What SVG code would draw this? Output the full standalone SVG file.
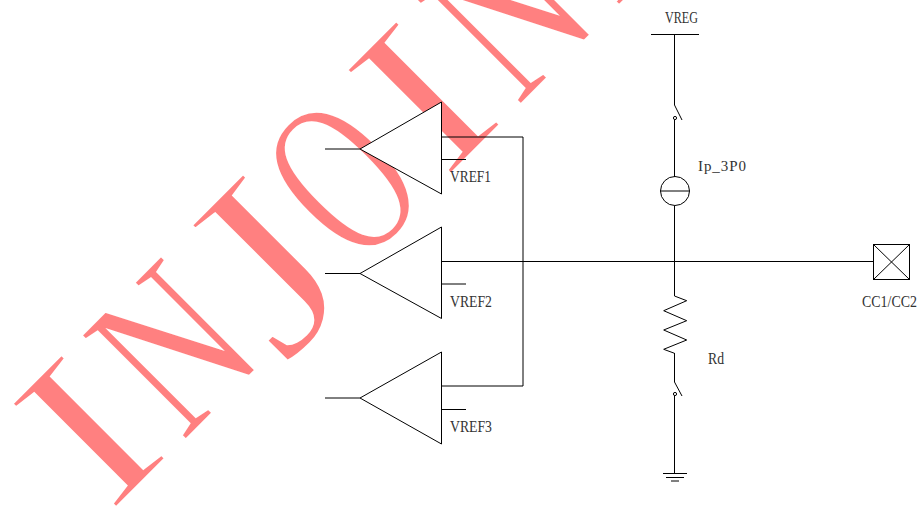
<svg xmlns="http://www.w3.org/2000/svg" width="917" height="511" viewBox="0 0 917 511">
<style>
.l{fill:none;stroke:#000;stroke-width:1}
.c{fill:#fff;stroke:#000;stroke-width:1}
.t{font-family:"Liberation Serif",serif;font-size:16px;fill:#333;stroke:none}
.wm text{font-family:"Liberation Serif",serif;font-size:225px;fill:#ff8080;stroke:#fff;stroke-width:2}
.wm .i{stroke-width:3}
</style>
<rect width="917" height="511" fill="#fff"/>
<g id="watermark" class="wm">
<text class="i" transform="translate(109 515) rotate(-45) scale(1.2 1)">I</text>
<text transform="translate(182.4 442.7) rotate(-45) scale(.742 1)">N</text>
<text transform="translate(283.5 367.5) rotate(-45) scale(1.17 1)" style="font-size:254px;stroke-width:4">J</text>
<text transform="translate(358.2 270.4) rotate(-45) scale(.64 1)" style="font-size:232px;stroke-width:3">O</text>
<text class="i" transform="translate(443.8 181.3) rotate(-45) scale(1.2 1)">I</text>
<text transform="translate(517.6 107.5) rotate(-45) scale(.742 1)">N</text>
<text class="i" transform="translate(612 13) rotate(-45) scale(1.2 1)">I</text>
</g>
<g id="connectors" class="l">
<path d="M674.5 34.5V105M674.5 120V177M674.5 206V296M674.5 353V382M674.5 396V473.5"/>
<path d="M441.5 261.5H873.5M441.5 137H523V386H441.5"/>
<path d="M325 149H360M325 273.5H360M325 398H360"/>
</g>
<g id="vreg" class="l"><path d="M651 34.5H699"/><text class="t" x="665" y="23" textLength="33" lengthAdjust="spacingAndGlyphs">VREG</text></g>
<g id="sw1" class="l"><path d="M674.5 105L682 120"/><circle cx="675" cy="118" r="1.6"/></g>
<g id="ip3p0" class="l"><circle cx="675" cy="191" r="14.5"/><path d="M660.5 191H689.5"/><text class="t" x="698" y="171" textLength="48" style="font-size:15px">Ip_3P0</text></g>
<g id="rd" class="l"><path d="M674.5 296L686.7 300.7L663.7 310.7L686.7 320.7L663.7 330L686.7 340L663.7 349.3L674.5 353.3"/><text class="t" x="708" y="364" textLength="16" lengthAdjust="spacingAndGlyphs">Rd</text></g>
<g id="sw2" class="l"><path d="M674.5 382L682 396"/><circle cx="675" cy="394" r="1.6"/></g>
<g id="gnd" class="l"><path d="M663 473.5H687M666 477.5H684M671 481H679"/></g>
<g id="cc" class="l"><rect x="873.5" y="244.5" width="36" height="35"/><path d="M873.5 244.5L909.5 279.5M909.5 244.5L873.5 279.5"/><text class="t" x="862" y="307" textLength="55" lengthAdjust="spacingAndGlyphs">CC1/CC2</text></g>
<g id="cmp1"><path class="c" d="M441.5 102L360 149L441.5 194Z"/><path class="l" d="M441.5 159.5H466"/><text class="t" x="450" y="182" textLength="41" lengthAdjust="spacingAndGlyphs">VREF1</text></g>
<g id="cmp2"><path class="c" d="M441.5 227L360 273.5L441.5 318.5Z"/><path class="l" d="M441.5 284H466"/><text class="t" x="450" y="307" textLength="42" lengthAdjust="spacingAndGlyphs">VREF2</text></g>
<g id="cmp3"><path class="c" d="M441.5 352L360 398L441.5 444Z"/><path class="l" d="M441.5 409.5H466"/><text class="t" x="450" y="432" textLength="42" lengthAdjust="spacingAndGlyphs">VREF3</text></g>
</svg>
